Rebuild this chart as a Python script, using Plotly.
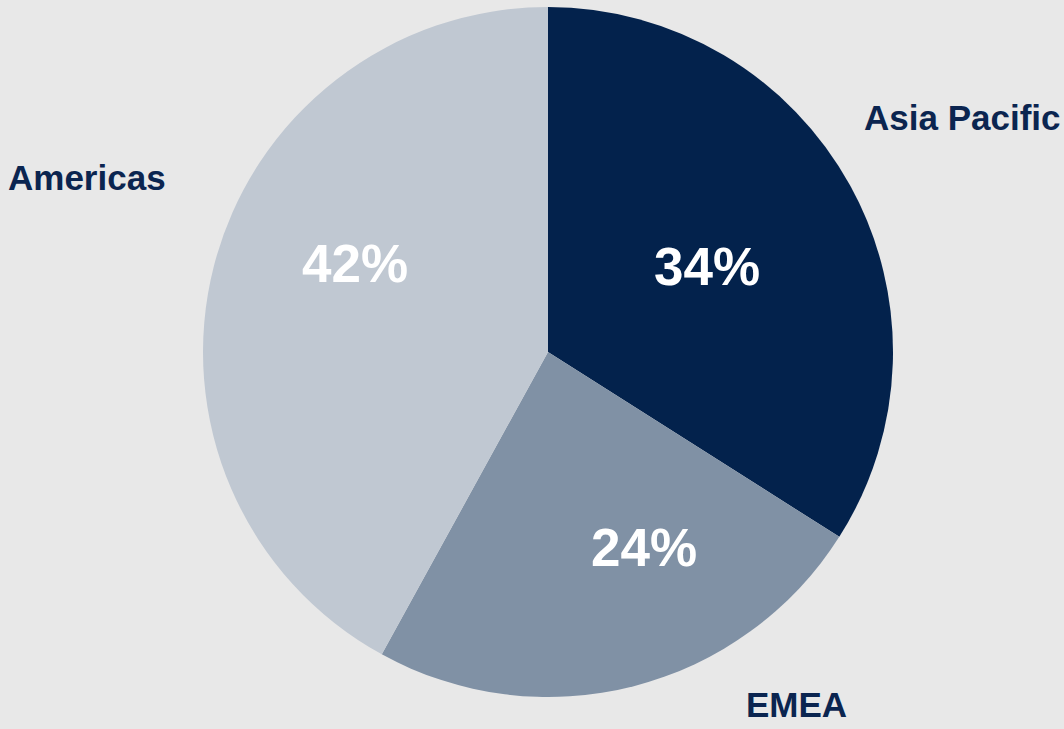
import plotly.graph_objects as go

regions = ["Asia Pacific", "EMEA", "Americas"]
shares = [34, 24, 42]
colors = ["#03224C", "#8091A5", "#C0C8D2"]

# outside label anchor positions (paper coords)
label_x = [0.905, 0.749, 0.082]
label_y = [0.8395, 0.033, 0.757]
# percentage label anchor positions (paper coords)
pct_x = [0.6645, 0.6053, 0.3336]
pct_y = [0.635, 0.2483, 0.639]

W, H = 1064, 729
cx, cy, R = 548, 352, 345

fig = go.Figure(go.Pie(
    labels=regions,
    values=shares,
    sort=False,
    direction="clockwise",
    rotation=0,
    marker=dict(colors=colors, line=dict(width=0)),
    textinfo="none",
    showlegend=False,
    hoverinfo="label+percent",
    domain=dict(x=[(cx - R) / W, (cx + R) / W], y=[1 - (cy + R) / H, 1 - (cy - R) / H]),
))

total = sum(shares)
for name, v, x, y, px, py in zip(regions, shares, label_x, label_y, pct_x, pct_y):
    fig.add_annotation(
        text=name, x=x, y=y, xref="paper", yref="paper",
        xanchor="center", yanchor="middle", showarrow=False,
        font=dict(family="Liberation Sans, Arial, sans-serif",
                  size=35, color="#0B2550", weight="bold"),
    )
    fig.add_annotation(
        text=f"{round(100 * v / total)}%", x=px, y=py, xref="paper", yref="paper",
        xanchor="center", yanchor="middle", showarrow=False,
        font=dict(family="Liberation Sans, Arial, sans-serif",
                  size=53, color="white", weight="bold"),
    )

fig.update_layout(
    width=W, height=H,
    margin=dict(l=0, r=0, t=0, b=0),
    paper_bgcolor="#E8E8E8",
    plot_bgcolor="#E8E8E8",
)

fig.write_html("out.html", config={"displayModeBar": False})

# remove default page margin so the figure fills the window exactly
with open("out.html", encoding="utf-8") as f:
    html = f.read()
html = html.replace("<head>", "<head><style>html,body{margin:0;padding:0;overflow:hidden;background:#E8E8E8;}</style>", 1)
with open("out.html", "w", encoding="utf-8") as f:
    f.write(html)
